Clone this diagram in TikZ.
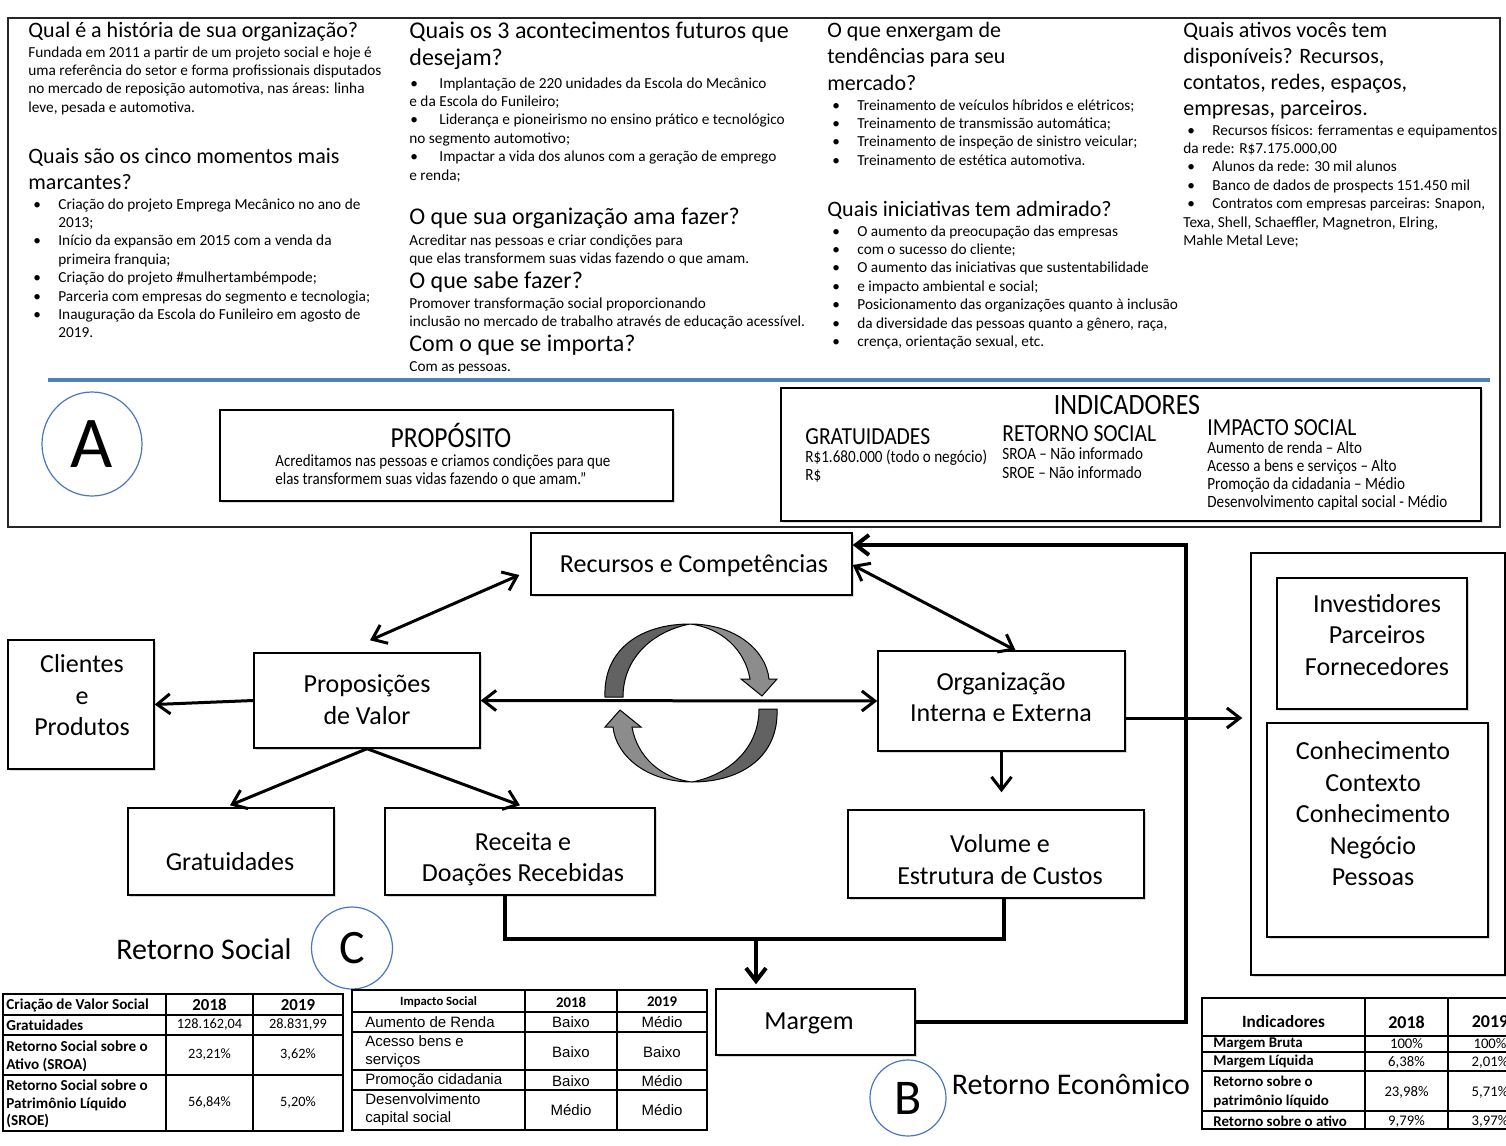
\documentclass[tikz,border=0pt]{standalone}
\usepackage{fontspec}
\setmainfont{Carlito}
\newfontfamily\narrowfont[FakeStretch=0.88]{Carlito}
\newfontfamily\arialfont{Liberation Sans}
\usetikzlibrary{arrows.meta,calc,shapes.geometric,shadows}

\newcommand\fsz[2]{\fontsize{#1}{#2}\selectfont}
\newcommand\bul[2]{\hspace*{#1}\makebox[#2][l]{•}}
% stacked lines whose baseline is the first line
\newcommand\lines[1]{\begin{tabular}[t]{@{}l@{}}#1\end{tabular}}

\definecolor{blueline}{HTML}{4F81BD}
\definecolor{circblue}{HTML}{4A76C0}
\definecolor{ringdark}{HTML}{626262}
\definecolor{ringlight}{HTML}{8C8C8C}

\tikzset{
  hd/.style={font=\fsz{11}{13}, inner sep=0pt, anchor=base west},
  hdb/.style={font=\fsz{12}{13.5}, inner sep=0pt, anchor=base west},
  bd/.style={font=\fsz{7.65}{9.2}, inner sep=0pt, anchor=base west},
  box/.style={draw, line width=0.7pt, fill=white, inner sep=0pt,
    drop shadow={shadow xshift=1pt, shadow yshift=-1pt, opacity=0.25, fill=black!60}},
  btxt/.style={font=\fsz{13}{15.75}, align=center, inner sep=0pt},
  tip/.tip={Straight Barb[length=6.5pt,width=10pt]},
  arr/.style={line width=1.5pt, -tip},
  dbl/.style={line width=1.5pt, tip-tip},
  rim/.style={ellipse, draw=circblue, line width=0.6pt, inner sep=0pt},
  ntxt/.style={font=\narrowfont\fsz{8.6}{9.2}, inner sep=0pt, anchor=base west},
  nhd/.style={font=\narrowfont\fsz{12.25}{13}, inner sep=0pt, anchor=base west},
  tb/.style={font=\bfseries\fsz{7.6}{9}, align=left, inner sep=0pt},
  tv/.style={font=\fsz{7.15}{9}, inner sep=0pt},
  ta/.style={font=\arialfont\fsz{7.5}{9}, align=left, inner sep=0pt},
  tline/.style={line width=0.8pt},
  ring/.style={draw=black, line width=0.5pt},
}

\begin{document}
\begin{tikzpicture}[x=0.5pt,y=-0.5pt]
\useasboundingbox (0,0) rectangle (1506,1146);
\clip (0,0) rectangle (1506,1146);

% ---------- upper panel ----------
\draw[line width=0.9pt, draw=black!85] (8,18) rectangle (1500,527);

% column 1
\node[hd] (h11) at (28,37) {Qual é a história de sua organização?};
\node[bd] (b11) at (28,57) {\lines{Fundada em 2011 a partir de um projeto social e hoje é\\uma referência do setor e forma profissionais disputados\\no mercado de reposição automotiva, nas áreas: linha\\leve, pesada e automotiva.}};
\node[hd] (h12) at (28,163) {\lines{Quais são os cinco momentos mais\\marcantes?}};
\node[bd] (b12) at (28,209) {\lines{\bul{2.5pt}{12.5pt}Criação do projeto Emprega Mecânico no ano de\\\hspace*{15pt}2013;\\\bul{2.5pt}{12.5pt}Início da expansão em 2015 com a venda da\\\hspace*{15pt}primeira franquia;\\\bul{2.5pt}{12.5pt}Criação do projeto \#mulhertambémpode;\\\bul{2.5pt}{12.5pt}Parceria com empresas do segmento e tecnologia;\\\bul{2.5pt}{12.5pt}Inauguração da Escola do Funileiro em agosto de\\\hspace*{15pt}2019.}};

% column 2
\node[hdb] (h21) at (409,38) {\lines{Quais os 3 acontecimentos futuros que\\desejam?}};
\node[bd] (b21) at (409,88) {\lines{\bul{0.5pt}{14.5pt}Implantação de 220 unidades da Escola do Mecânico\\e da Escola do Funileiro;\\\bul{0.5pt}{14.5pt}Liderança e pioneirismo no ensino prático e tecnológico\\no segmento automotivo;\\\bul{0.5pt}{14.5pt}Impactar a vida dos alunos com a geração de emprego\\e renda;}};
\node[hdb] (h22) at (409,224) {O que sua organização ama fazer?};
\node[bd] (b22) at (409,245) {\lines{Acreditar nas pessoas e criar condições para\\que elas transformem suas vidas fazendo o que amam.}};
\node[hdb] (h23) at (409,288) {O que sabe fazer?};
\node[bd] (b23) at (409,308) {\lines{Promover transformação social proporcionando\\inclusão no mercado de trabalho através de educação acessível.}};
\node[hdb] (h24) at (409,351) {Com o que se importa?};
\node[bd] (b24) at (409,371) {Com as pessoas.};

% column 3
\node[hd, font=\fsz{11}{13.25}] (h31) at (827,37) {\lines{O que enxergam de\\tendências para seu\\mercado?}};
\node[bd] (b31) at (827,110) {\lines{\bul{2.5pt}{12.5pt}Treinamento de veículos híbridos e elétricos;\\\bul{2.5pt}{12.5pt}Treinamento de transmissão automática;\\\bul{2.5pt}{12.5pt}Treinamento de inspeção de sinistro veicular;\\\bul{2.5pt}{12.5pt}Treinamento de estética automotiva.}};
\node[hd] (h32) at (827,216) {Quais iniciativas tem admirado?};
\node[bd] (b32) at (827,236) {\lines{\bul{2.5pt}{12.5pt}O aumento da preocupação das empresas\\\bul{2.5pt}{12.5pt}com o sucesso do cliente;\\\bul{2.5pt}{12.5pt}O aumento das iniciativas que sustentabilidade\\\bul{2.5pt}{12.5pt}e impacto ambiental e social;\\\bul{2.5pt}{12.5pt}Posicionamento das organizações quanto à inclusão\\\bul{2.5pt}{12.5pt}da diversidade das pessoas quanto a gênero, raça,\\\bul{2.5pt}{12.5pt}crença, orientação sexual, etc.}};

% column 4
\node[hd] (h41) at (1183,37) {\lines{Quais ativos vocês tem\\disponíveis? Recursos,\\contatos, redes, espaços,\\empresas, parceiros.}};
\node[bd] (b41) at (1183,135) {\lines{\bul{2pt}{12.5pt}Recursos físicos: ferramentas e equipamentos\\da rede: R\$7.175.000,00\\\bul{2pt}{12.5pt}Alunos da rede: 30 mil alunos\\\bul{2pt}{12.5pt}Banco de dados de prospects 151.450 mil\\\bul{2pt}{12.5pt}Contratos com empresas parceiras: Snapon,\\Texa, Shell, Schaeffler, Magnetron, Elring,\\Mahle Metal Leve;}};

% separator
\draw[line width=2pt, draw=blueline] (48,380) -- (1490,380);

% A, purpose, indicators
\node[rim, minimum width=50pt, minimum height=52pt, font=\fsz{36.5}{40}] (ca) at (92,444) {A};

\node[box, minimum width=226.5pt, minimum height=45.5pt] (pbox) at (446.5,455.5) {};
\node[inner sep=0pt, font=\narrowfont\fsz{14.5}{16}] (ptitle) at (451,435) {PROPÓSITO};
\node[ntxt, font=\narrowfont\fsz{8.5}{9.1}] (pbody) at (275,466) {\lines{Acreditamos nas pessoas e criamos condições para que\\elas transformem suas vidas fazendo o que amam.”}};

\node[box, minimum width=350pt, minimum height=66.5pt] (ibox) at (1131,454.5) {};
\node[inner sep=0pt, font=\narrowfont\fsz{14.75}{16}] (ititle) at (1127,405) {INDICADORES};
\node[nhd] (ig) at (805,444) {GRATUIDADES};
\node[ntxt, font=\narrowfont\fsz{8.6}{9}] (igb) at (805,462) {\lines{R\$1.680.000 (todo o negócio)\\R\$}};
\node[nhd] (ir) at (1002,441) {RETORNO SOCIAL};
\node[ntxt, font=\narrowfont\fsz{8.6}{9.5}] (irb) at (1002,459) {\lines{SROA – Não informado\\SROE – Não informado}};
\node[nhd] (ii) at (1207,435) {IMPACTO SOCIAL};
\node[ntxt, font=\narrowfont\fsz{8.6}{9.15}] (iib) at (1207,453) {\lines{Aumento de renda – Alto\\Acesso a bens e serviços – Alto\\Promoção da cidadania – Médio\\Desenvolvimento capital social - Médio}};

% ---------- business model diagram ----------
\node[box, minimum width=160.5pt, minimum height=31pt] (rec) at (691.5,564) {};
\node[btxt] (rect) at (694,566) {Recursos e Competências};

\node[box, minimum width=113pt, minimum height=47.5pt] (prop) at (367,700.5) {};
\node[btxt] (propt) at (367,699.5) {Proposições\\de Valor};

\node[box, minimum width=73pt, minimum height=64.5pt] (cli) at (81,704.5) {};
\node[btxt] (clit) at (82,695.5) {Clientes\\e\\Produtos};

\node[box, minimum width=123.5pt, minimum height=50pt] (org) at (1001.5,701) {};
\node[btxt] (orgt) at (1001,697) {Organização\\Interna e Externa};

\node[box, minimum width=103pt, minimum height=43.5pt] (grat) at (231,851.5) {};
\node[btxt] (gratt) at (230,862) {Gratuidades};

\node[box, minimum width=135pt, minimum height=43.5pt] (rece) at (520,851.5) {};
\node[btxt] (recet) at (523,859) {Receita e\\Doações Recebidas};

\node[box, minimum width=148pt, minimum height=44pt] (vol) at (996,854) {};
\node[btxt] (volt) at (1000,859.5) {Volume e\\Estrutura de Custos};

\node[box, minimum width=99.5pt, minimum height=33pt] (marg) at (815.5,1022) {};
\node[btxt] (margt) at (809,1023) {Margem};

\node[box, minimum width=127pt, minimum height=211pt] (rb) at (1378,764) {};
\node[box, minimum width=95pt, minimum height=65.5pt] (inv) at (1372,643.5) {};
\node[btxt] (invt) at (1377,635) {Investidores\\Parceiros\\Fornecedores};
\node[box, minimum width=110.5pt, minimum height=107pt] (con) at (1377.5,830) {};
\node[btxt] (cont) at (1373,814) {Conhecimento\\Contexto\\Conhecimento\\Negócio\\Pessoas};

% value cycle
\begin{scope}
  \filldraw[ring, fill=ringdark] (605,697) .. controls (603,650) and (640,624) .. (690,624)
     .. controls (650,632) and (623,660) .. (623,697) -- cycle;
  \filldraw[ring, fill=ringlight] (690,624) .. controls (735,624) and (766,650) .. (769,679)
     -- (777,679) -- (762,696) -- (741,679) -- (750,679)
     .. controls (745,650) and (722,628) .. (690,624) -- cycle;
\end{scope}
\begin{scope}[rotate around={180:(691,703)}]
  \filldraw[ring, fill=ringdark] (605,697) .. controls (603,650) and (640,624) .. (690,624)
     .. controls (650,632) and (623,660) .. (623,697) -- cycle;
  \filldraw[ring, fill=ringlight] (690,624) .. controls (735,624) and (766,650) .. (769,679)
     -- (777,679) -- (762,696) -- (741,679) -- (750,679)
     .. controls (745,650) and (722,628) .. (690,624) -- cycle;
\end{scope}

% connectors
\draw[dbl] ($(rec.west)+(-11,11)$) -- ($(prop.north)+(3,-12)$);
\draw[dbl] ($(rec.east)+(0,1)$) -- ($(org.north)+(14,0)$);
\draw[dbl] (prop.east) -- (org.west);
\draw[arr] (prop.west) -- (cli.east);
\draw[arr] (prop.south) -- ($(grat.north)+(-1,-2)$);
\draw[arr] (prop.south) -- ($(rece.north)+(0,-2)$);
\draw[arr, shorten >=8.5pt] (org.south) -- (org.south |- vol.north);

\coordinate (oe) at ($(org.east)+(0,17)$);
\draw[arr, shorten >=4pt] (oe) -- (oe -| rb.west);

\coordinate (j1) at (505,939);
\coordinate (j2) at (1004,939);
\coordinate (j3) at (756,941);
\draw[line width=2pt] (rece.south -| j1) -- (j1) -- (j2) -- (vol.south -| j2);
\draw[arr, line width=2pt, shorten >=2pt] (j3) -- (j3 |- marg.north);

\coordinate (lp) at (1186,545);
\draw[arr, line width=2pt] (marg.east) -| (lp) -- (lp -| rec.east);

% returns
\node[rim, minimum width=40.5pt, minimum height=41pt, font=\fsz{24}{26}] (cc) at (352,948) {C};
\node[inner sep=0pt, font=\fsz{15}{17}] (rs) at (204,949) {Retorno Social};
\node[rim, minimum width=38pt, minimum height=38pt, font=\fsz{25}{27}] (cb) at (908,1098) {B};
\node[inner sep=0pt, font=\fsz{15}{17}] (re) at (1071,1084) {Retorno Econômico};

% ---------- table: social value ----------
\draw[tline] (3,994) rectangle (343,1131);
\foreach \y in {1015,1035,1075} \draw[tline] (3,\y) -- (343,\y);
\foreach \x in {166,253} \draw[tline] (\x,994) -- (\x,1131);
\node[tb, anchor=west] (l11) at (6,1005) {Criação de Valor Social};
\node[tb, font=\bfseries\fsz{8.4}{9}] (l12) at (209.5,1005) {2018};
\node[tb, font=\bfseries\fsz{8.4}{9}] (l13) at (298,1005) {2019};
\node[tb, anchor=west] (l21) at (6,1025) {Gratuidades};
\node[tv] (l22) at (209.5,1025) {128.162,04};
\node[tv] (l23) at (298,1025) {28.831,99};
\node[tb, anchor=west] (l31) at (6,1056) {Retorno Social sobre o\\Ativo (SROA)};
\node[tv] (l32) at (209.5,1055) {23,21\%};
\node[tv] (l33) at (298,1055) {3,62\%};
\node[tb, anchor=west, font=\bfseries\fsz{7.6}{8.8}] (l41) at (6,1104) {Retorno Social sobre o\\Patrimônio Líquido\\(SROE)};
\node[tv] (l42) at (209.5,1103) {56,84\%};
\node[tv] (l43) at (298,1103) {5,20\%};

% ---------- table: social impact ----------
\draw[line width=0.7pt] (352,990) rectangle (707,1130);
\foreach \y in {1012,1032,1070,1090} \draw[line width=0.7pt] (352,\y) -- (707,\y);
\foreach \x in {525,617} \draw[line width=0.7pt] (\x,990) -- (\x,1130);
\node[tb, font=\bfseries\fsz{6.35}{8}] (m11) at (438.5,1002) {Impacto Social};
\node[tb, font=\bfseries\fsz{7.4}{8}] (m12) at (571,1002) {2018};
\node[tb, font=\bfseries\fsz{7.4}{8}] (m13) at (662,1002) {2019};
\node[ta, anchor=west] (m21) at (365,1022) {Aumento de Renda};
\node[ta] (m22) at (571,1022) {Baixo};
\node[ta] (m23) at (662,1022) {Médio};
\node[ta, anchor=west] (m31) at (365,1052) {Acesso bens e\\serviços};
\node[ta] (m32) at (571,1052) {Baixo};
\node[ta] (m33) at (662,1052) {Baixo};
\node[ta, anchor=west] (m41) at (365,1081) {Promoção cidadania};
\node[ta] (m42) at (571,1081) {Baixo};
\node[ta] (m43) at (662,1081) {Médio};
\node[ta, anchor=west] (m51) at (365,1110) {Desenvolvimento\\capital social};
\node[ta] (m52) at (571,1110) {Médio};
\node[ta] (m53) at (662,1110) {Médio};

% ---------- table: economic indicators ----------
\draw[line width=0.9pt] (1202,998) rectangle (1532,1129);
\foreach \y in {1036,1052,1071,1111} \draw[line width=0.8pt] (1202,\y) -- (1532,\y);
\foreach \x in {1365,1448} \draw[line width=0.9pt] (\x,998) -- (\x,1129);
\node[tb, font=\bfseries\fsz{8.6}{9}] (r11) at (1283.5,1022) {Indicadores};
\node[tb, font=\bfseries\fsz{9}{9}] (r12) at (1406.5,1022) {2018};
\node[tb, font=\bfseries\fsz{9}{9}] (r13) at (1490,1022) {2019};
\node[tb, anchor=west, font=\bfseries\fsz{7.45}{9.5}] (r21) at (1213,1044) {Margem Bruta};
\node[tv, font=\fsz{7.35}{9}] (r22) at (1406.5,1044) {100\%};
\node[tv, font=\fsz{7.35}{9}] (r23) at (1490,1044) {100\%};
\node[tb, anchor=west, font=\bfseries\fsz{7.45}{9.5}] (r31) at (1213,1062) {Margem Líquida};
\node[tv, font=\fsz{7.35}{9}] (r32) at (1406.5,1062) {6,38\%};
\node[tv, font=\fsz{7.35}{9}] (r33) at (1490,1062) {2,01\%};
\node[tb, anchor=west, font=\bfseries\fsz{7.45}{9.5}] (r41) at (1213,1092) {Retorno sobre o\\patrimônio líquido};
\node[tv, font=\fsz{7.35}{9}] (r42) at (1406.5,1092) {23,98\%};
\node[tv, font=\fsz{7.35}{9}] (r43) at (1490,1092) {5,71\%};
\node[tb, anchor=west, font=\bfseries\fsz{7.45}{9.5}] (r51) at (1213,1121) {Retorno sobre o ativo};
\node[tv, font=\fsz{7.35}{9}] (r52) at (1406.5,1121) {9,79\%};
\node[tv, font=\fsz{7.35}{9}] (r53) at (1490,1121) {3,97\%};
\end{tikzpicture}
\end{document}
